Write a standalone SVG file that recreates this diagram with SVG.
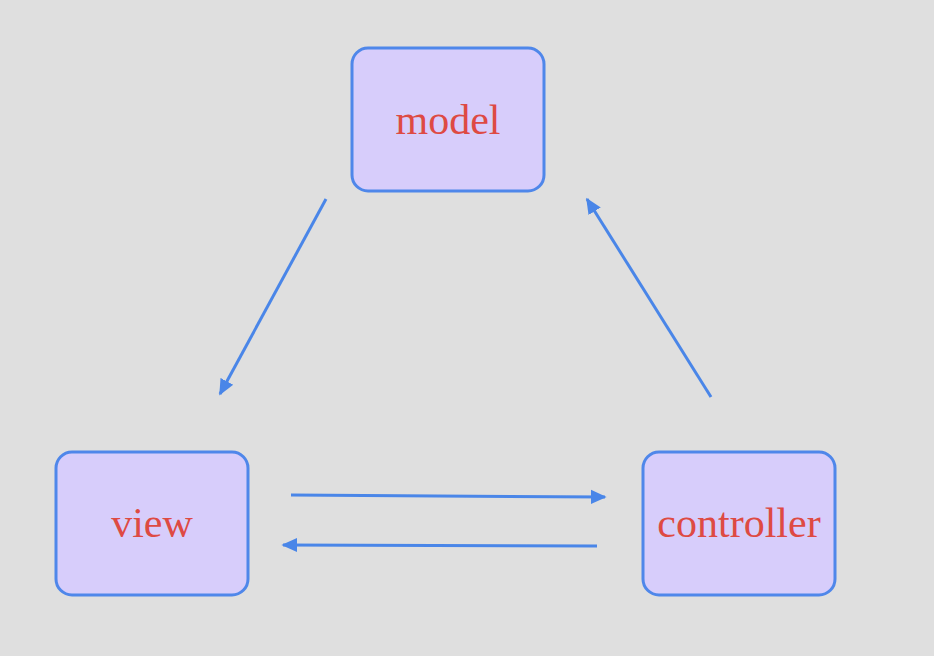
<svg xmlns="http://www.w3.org/2000/svg" width="934" height="656" viewBox="0 0 934 656">
<style>
.box{fill:#d7cdfb;stroke:#4f87ea;stroke-width:3}
.lbl{font-family:"Liberation Serif",serif;font-size:42px;fill:#de4a43;text-anchor:middle}
.edge{stroke:#4a86e8;stroke-width:3;fill:none;marker-end:url(#ah)}
</style>
<defs>
<marker id="ah" viewBox="0 0 10 10" refX="9" refY="5" markerWidth="16" markerHeight="16" markerUnits="userSpaceOnUse" orient="auto">
<path d="M0,0.5 L10,5 L0,9.5 z" fill="#4a86e8"/>
</marker>
</defs>
<rect width="934" height="656" fill="#dfdfdf"/>
<g id="connectors">
<line class="edge" x1="326" y1="199" x2="220" y2="394"/>
<line class="edge" x1="711" y1="397" x2="587" y2="199"/>
<line class="edge" x1="291" y1="495" x2="605" y2="497"/>
<line class="edge" x1="597" y1="546" x2="283" y2="545"/>
</g>
<g id="model">
<rect class="box" x="352" y="48" width="192" height="143" rx="16"/>
<text class="lbl" x="448" y="134">model</text>
</g>
<g id="view">
<rect class="box" x="56" y="452" width="192" height="143" rx="16"/>
<text class="lbl" x="152" y="537">view</text>
</g>
<g id="controller">
<rect class="box" x="643" y="452" width="192" height="143" rx="16"/>
<text class="lbl" x="739" y="537">controller</text>
</g>
</svg>
